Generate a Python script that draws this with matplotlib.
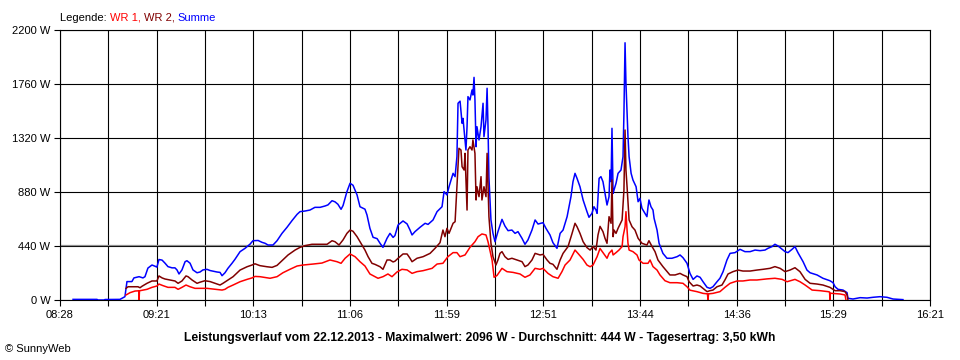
import matplotlib
matplotlib.use("Agg")
import matplotlib.pyplot as plt
import numpy as np

# minutes after 08:28, watts
summe = [
    (7.1, 5), (20.1, 5), (20.7, 0), (23.9, 0), (24.5, 4), (32.6, 5), (35.3, 27), (35.9, 98),
    (36.4, 150), (39.1, 150), (40.2, 180), (43.0, 190), (45.1, 180), (46.2, 190), (47.8, 260),
    (50.0, 285), (51.7, 275), (52.7, 268), (53.8, 330), (55.5, 325), (57.1, 300), (58.7, 272),
    (60.9, 262), (62.5, 262), (63.6, 245), (64.7, 212), (66.3, 245), (68.0, 312), (69.0, 320),
    (70.7, 300), (72.3, 245), (74.5, 222), (76.1, 228), (77.7, 245), (79.9, 250), (81.6, 240),
    (83.2, 235), (85.4, 228), (87.0, 225), (88.1, 198), (89.7, 222), (91.3, 258), (93.5, 299),
    (95.1, 331), (97.9, 394), (100.6, 421), (103.3, 455), (104.9, 483), (107.7, 485),
    (109.8, 470), (111.5, 462), (113.1, 448), (115.8, 448), (118.0, 483), (120.7, 543),
    (123.4, 592), (126.1, 646), (128.9, 698), (130.5, 720), (133.2, 725), (135.9, 733),
    (138.6, 755), (141.4, 755), (144.1, 766), (145.7, 775), (147.9, 809), (149.5, 800),
    (151.1, 780), (152.8, 739), (153.9, 770), (156.0, 883), (157.7, 951), (159.3, 935),
    (161.5, 856), (163.1, 760), (165.8, 740), (166.9, 693), (168.5, 584), (170.2, 511),
    (172.4, 500), (174.0, 462), (175.6, 429), (177.8, 503), (179.4, 543), (181.1, 510),
    (182.1, 525), (183.8, 611), (186.5, 644), (188.7, 620), (190.3, 570), (191.4, 530),
    (193.0, 557), (195.7, 592), (198.5, 625), (200.1, 616), (202.8, 652), (205.0, 720),
    (207.7, 760), (208.8, 883), (210.4, 856), (211.5, 923), (213.7, 1032), (214.8, 1005),
    (215.8, 1168), (216.4, 1603), (217.5, 1620), (218.6, 1440), (219.1, 1480), (220.2, 1304),
    (220.7, 1222), (221.3, 1412), (221.8, 1657), (222.9, 1630), (224.0, 1711), (224.5, 1670),
    (225.1, 1814), (225.6, 1630), (226.2, 1249), (226.7, 1412), (227.8, 1304), (228.9, 1412),
    (230.0, 1603), (230.5, 1331), (231.6, 1467), (232.2, 1725), (232.7, 1412), (233.2, 1000),
    (234.3, 652), (235.4, 543), (236.5, 475), (238.1, 557), (240.3, 657), (241.9, 603),
    (243.6, 565), (245.7, 570), (247.4, 543), (249.0, 557), (251.2, 502), (252.8, 454),
    (254.4, 489), (256.6, 570), (258.3, 652), (259.9, 619), (262.6, 630), (264.2, 584),
    (266.4, 530), (268.0, 467), (270.2, 421), (271.9, 543), (273.5, 570), (275.7, 679),
    (277.8, 842), (278.9, 964), (280.0, 1032), (281.1, 991), (282.7, 923), (284.4, 815),
    (286.5, 720), (287.6, 674), (289.2, 706), (290.3, 760), (291.4, 733), (292.0, 706),
    (293.1, 991), (294.1, 1005), (295.2, 964), (296.3, 869), (297.4, 774), (298.5, 842),
    (299.0, 1059), (299.6, 964), (300.1, 1399), (300.7, 869), (301.2, 896), (302.3, 951),
    (303.4, 1032), (305.0, 1059), (306.1, 1168), (306.6, 1521), (307.2, 2096), (307.7, 1765),
    (308.3, 1521), (308.8, 1331), (309.4, 1168), (310.5, 1032), (311.5, 978), (313.2, 923),
    (314.3, 801), (315.3, 828), (316.4, 747), (317.5, 720), (319.1, 679), (319.7, 760),
    (320.2, 815), (321.3, 760), (322.4, 733), (323.0, 665), (324.6, 570), (325.7, 462),
    (327.8, 380), (330.0, 340), (332.7, 340), (335.5, 353), (337.1, 367), (338.7, 345),
    (340.9, 299), (342.5, 217), (344.2, 168), (346.3, 196), (348.0, 185), (349.6, 149),
    (351.8, 103), (353.4, 95), (355.0, 108), (357.2, 149), (358.8, 177), (360.5, 231),
    (362.6, 326), (364.3, 380), (367.0, 386), (369.7, 413), (372.4, 394), (375.2, 394),
    (377.9, 407), (380.6, 402), (383.3, 407), (384.9, 421), (387.1, 435), (388.7, 454),
    (390.4, 440), (392.6, 413), (394.2, 394), (395.8, 386), (398.0, 413), (399.6, 435),
    (401.2, 386), (404.0, 312), (406.1, 244), (407.8, 222), (411.6, 204), (414.8, 177),
    (418.6, 157), (420.3, 141), (421.4, 108), (423.0, 87), (425.7, 81), (427.9, 60),
    (428.4, 14), (431.1, 8), (435.0, 19), (438.8, 16), (442.0, 22), (445.8, 27), (449.6, 22),
    (452.9, 8), (458.3, 3),
]

wr2 = [
    (35.9, 95), (37.0, 108), (39.7, 108), (42.4, 108), (43.5, 100), (44.6, 112), (47.3, 136),
    (50.0, 155), (52.7, 155), (53.8, 196), (55.5, 180), (57.1, 171), (59.8, 163), (62.5, 155),
    (64.2, 136), (66.3, 155), (68.5, 196), (69.6, 190), (71.8, 163), (74.5, 136), (76.1, 145),
    (78.8, 157), (81.6, 150), (84.3, 136), (87.0, 122), (88.6, 136), (91.3, 163), (94.1, 190),
    (97.9, 244), (101.7, 271), (104.4, 285), (106.0, 295), (108.7, 280), (112.5, 271),
    (115.3, 266), (118.0, 282), (120.7, 320), (124.0, 367), (127.8, 407), (130.5, 429),
    (133.2, 443), (137.0, 454), (141.4, 454), (145.2, 454), (147.9, 483), (149.5, 475),
    (151.7, 448), (153.9, 490), (156.0, 543), (157.7, 570), (159.3, 560), (161.5, 516),
    (164.2, 448), (165.8, 407), (167.5, 353), (169.6, 299), (171.3, 290), (174.0, 271),
    (175.6, 250), (177.8, 326), (179.4, 326), (181.1, 310), (182.1, 316), (183.8, 340),
    (186.5, 375), (188.7, 375), (190.3, 340), (191.4, 312), (194.1, 340), (197.4, 353),
    (201.2, 380), (203.9, 421), (206.6, 467), (208.2, 570), (209.3, 516), (210.4, 584),
    (211.5, 543), (213.7, 625), (214.8, 638), (215.8, 923), (216.9, 1236), (218.0, 1222),
    (218.6, 1086), (219.7, 1059), (220.2, 1195), (221.3, 733), (221.8, 1222), (222.9, 1249),
    (224.0, 1222), (224.5, 1304), (225.6, 1195), (226.2, 815), (226.7, 923), (227.8, 842),
    (228.9, 1005), (229.4, 815), (230.5, 923), (231.6, 842), (232.2, 1195), (233.2, 679),
    (234.3, 462), (235.4, 353), (237.0, 285), (238.1, 326), (239.2, 380), (240.3, 394),
    (241.9, 353), (243.6, 331), (245.7, 340), (248.5, 326), (251.2, 312), (252.8, 272),
    (254.4, 285), (256.6, 326), (258.3, 380), (261.0, 367), (262.6, 372), (264.8, 326),
    (266.4, 299), (268.0, 291), (270.2, 250), (271.9, 326), (273.5, 380), (276.2, 435),
    (278.4, 543), (280.0, 625), (281.1, 597), (282.7, 543), (284.4, 475), (286.5, 427),
    (288.2, 407), (289.8, 435), (291.4, 407), (292.5, 530), (293.6, 600), (295.2, 557),
    (296.3, 503), (297.4, 462), (298.5, 679), (299.6, 625), (300.1, 978), (300.7, 516),
    (301.2, 570), (302.3, 543), (303.4, 584), (305.6, 652), (306.6, 896), (307.2, 1385),
    (307.7, 1059), (308.3, 923), (309.4, 652), (311.0, 597), (312.6, 570), (314.3, 503),
    (316.4, 462), (319.1, 448), (320.2, 483), (321.9, 435), (323.5, 394), (325.1, 326),
    (327.8, 272), (331.6, 204), (334.4, 204), (337.1, 217), (338.7, 204), (340.9, 190),
    (342.0, 149), (344.2, 114), (346.3, 122), (348.0, 114), (349.6, 95), (351.8, 68),
    (353.4, 76), (355.0, 81), (357.2, 108), (359.9, 122), (361.5, 163), (363.2, 212),
    (365.9, 231), (368.6, 244), (371.3, 236), (375.2, 236), (378.9, 244), (382.2, 250),
    (386.0, 258), (388.7, 272), (391.5, 258), (394.2, 231), (396.9, 244), (399.6, 263),
    (402.3, 231), (405.1, 168), (407.8, 136), (411.6, 130), (414.8, 122), (418.6, 103),
    (421.4, 76), (424.1, 76), (426.8, 68), (427.9, 41), (428.4, 0),
]

wr1 = [
    (35.9, 41), (38.1, 60), (40.8, 73), (42.8, 75), (43.0, 0), (43.2, 75), (47.3, 87),
    (50.0, 103), (52.7, 114), (53.8, 130), (56.0, 117), (58.7, 103), (62.5, 103), (64.2, 87),
    (66.3, 103), (68.5, 122), (70.7, 108), (73.4, 95), (76.1, 95), (79.9, 95), (84.3, 87),
    (88.1, 81), (89.7, 87), (91.3, 103), (94.1, 122), (97.9, 149), (101.7, 168), (104.4, 180),
    (106.0, 192), (108.7, 190), (114.2, 177), (118.0, 190), (121.2, 222), (125.0, 250),
    (128.9, 277), (132.1, 285), (137.6, 293), (142.4, 301), (146.8, 326), (150.6, 312),
    (152.8, 299), (155.0, 340), (157.7, 375), (160.4, 353), (163.1, 312), (165.8, 277),
    (168.5, 212), (171.3, 190), (172.9, 177), (175.6, 190), (178.3, 212), (180.5, 190),
    (183.2, 228), (185.9, 250), (188.7, 245), (191.4, 217), (194.1, 231), (197.4, 239),
    (202.3, 258), (205.0, 293), (208.2, 299), (210.9, 353), (213.7, 386), (215.8, 386),
    (217.5, 353), (220.2, 367), (222.9, 429), (225.6, 475), (227.3, 516), (229.4, 538),
    (231.6, 530), (232.7, 475), (234.9, 326), (236.0, 185), (237.6, 200), (240.3, 258),
    (243.0, 231), (246.3, 225), (250.1, 212), (252.8, 185), (255.5, 204), (258.3, 258),
    (261.0, 250), (262.6, 258), (265.3, 217), (268.0, 190), (270.8, 177), (272.9, 231),
    (274.6, 285), (277.3, 326), (280.0, 407), (281.6, 380), (284.4, 331), (286.5, 285),
    (288.2, 271), (289.8, 285), (292.0, 353), (293.6, 420), (295.2, 386), (297.4, 340),
    (298.5, 380), (300.1, 407), (300.7, 367), (302.3, 386), (303.9, 407), (305.6, 435),
    (306.1, 516), (307.2, 597), (307.7, 720), (308.3, 570), (308.8, 462), (309.4, 407),
    (311.5, 394), (313.7, 367), (314.8, 326), (317.0, 299), (319.7, 299), (320.8, 326),
    (322.4, 272), (324.6, 244), (326.2, 204), (328.9, 157), (331.6, 141), (335.5, 141),
    (338.7, 136), (340.9, 108), (342.5, 80), (346.3, 68), (349.6, 54), (352.0, 50),
    (352.3, 0), (352.6, 50), (355.0, 54), (358.8, 68), (361.5, 103), (364.3, 136),
    (368.1, 155), (371.3, 155), (375.2, 163), (378.9, 163), (384.4, 172), (388.7, 177),
    (392.6, 168), (395.3, 149), (399.6, 168), (402.3, 149), (405.1, 122), (408.9, 81),
    (413.2, 76), (417.6, 68), (418.4, 65), (418.6, 0), (418.8, 55), (424.1, 49), (426.8, 41),
    (427.3, 0),
]

x_labels = ["08:28", "09:21", "10:13", "11:06", "11:59", "12:51", "13:44", "14:36", "15:29", "16:21"]
y_ticks = [0, 440, 880, 1320, 1760, 2200]
span_min = 473

plt.rcParams['font.family'] = ['Liberation Sans', 'DejaVu Sans']
plt.rcParams['font.size'] = 8

fig = plt.figure(figsize=(9.6, 3.6), dpi=100)
ax = fig.add_axes([60 / 960, 60 / 360, 870 / 960, 270 / 360])

xt = np.linspace(0, span_min, 19)
ax.set_xticks(xt)
ax.set_xticklabels([x_labels[i // 2] if i % 2 == 0 else "" for i in range(19)])
ax.set_yticks(y_ticks)
ax.set_yticklabels([f"{v} W" for v in y_ticks])
ax.set_xlim(0, span_min)
ax.set_ylim(0, 2200)
ax.tick_params(length=4, width=0.8, color='black', pad=3, labelsize=8)
ax.grid(True, color='black', linewidth=0.8)
ax.set_axisbelow(True)
for sp in ax.spines.values():
    sp.set_linewidth(0.8)

ax.axhline(448, color='#909090', linewidth=0.9, zorder=1)

for data, col in [(summe, '#0000FF'), (wr2, '#800000'), (wr1, '#FF0000')]:
    t, w = zip(*data)
    ax.plot(t, w, color=col, linewidth=1.1, zorder=3)

# legend line on top
parts = [("Legende: ", 'black'), ("WR 1, ", '#FF0000'), ("WR 2, ", '#800000'), ("Summe", '#0000FF')]
prev = fig.text(60 / 960, 1 - 21 / 360, parts[0][0], color=parts[0][1], fontsize=8)
for s, c in parts[1:]:
    prev = ax.annotate(s, xy=(1, 0), xycoords=prev, va='bottom', color=c, fontsize=8)

fig.text(480 / 960, 1 - 341 / 360,
         "Leistungsverlauf vom 22.12.2013 - Maximalwert: 2096 W - Durchschnitt: 444 W - Tagesertrag: 3,50 kWh",
         ha='center', fontsize=8.7, fontweight='bold')
fig.text(5 / 960, 1 - 352 / 360, "© SunnyWeb", fontsize=8)

fig.savefig("out.png", dpi=100)
